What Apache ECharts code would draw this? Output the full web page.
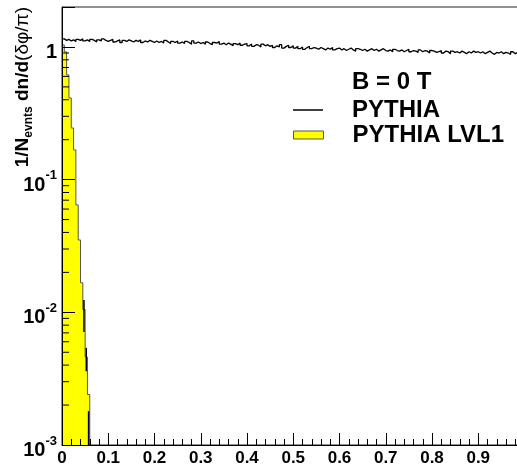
<!DOCTYPE html>
<html>
<head>
<meta charset="utf-8">
<script src="https://cdn.jsdelivr.net/npm/echarts@6/dist/echarts.min.js"></script>
<style>
  html, body { margin: 0; padding: 0; background: #ffffff; }
  #chart { width: 517px; height: 465px; }
</style>
</head>
<body>
<div id="chart"></div>
<script>
// Histogram binning along δφ/π
const binWidth = 0.005;

// PYTHIA, 200 bins from 0 to 1
const pythia = [
  1.15, 1.12, 1.14, 1.11, 1.13, 1.10, 1.14, 1.12, 1.15, 1.11,
  1.13, 1.10, 1.14, 1.12, 1.09, 1.13, 1.11, 1.15, 1.12, 1.10,
  1.12, 1.14, 1.09, 1.11, 1.13, 1.08, 1.12, 1.10, 1.13, 1.11,
  1.09, 1.12, 1.10, 1.13, 1.08, 1.11, 1.09, 1.12, 1.10, 1.08,
  1.11, 1.08, 1.10, 1.07, 1.12, 1.09, 1.06, 1.10, 1.08, 1.11,
  1.07, 1.09, 1.06, 1.10, 1.08, 1.05, 1.11, 1.07, 1.09, 1.06,
  1.08, 1.05, 1.09, 1.06, 1.04, 1.08, 1.07, 1.10, 1.05, 1.07,
  1.04, 1.07, 1.05, 1.02, 1.06, 1.04, 1.07, 1.03, 1.05, 1.06,
  1.02, 1.05, 1.01, 1.04, 1.03, 1.00, 1.05, 1.02, 1.04, 1.01,
  1.03, 0.99, 1.02, 1.00, 1.04, 0.98, 1.01, 1.03, 0.99, 1.02,
  0.98, 1.01, 0.97, 1.00, 0.96, 0.99, 1.01, 0.97, 0.99, 0.98,
  0.96, 0.99, 0.97, 0.95, 0.98, 0.96, 0.99, 0.95, 0.97, 0.98,
  0.95, 0.97, 0.94, 0.96, 0.98, 0.95, 0.93, 0.97, 0.96, 0.94,
  0.96, 0.93, 0.95, 0.97, 0.94, 0.96, 0.93, 0.95, 0.97, 0.94,
  0.93, 0.95, 0.92, 0.96, 0.94, 0.93, 0.95, 0.92, 0.94, 0.96,
  0.92, 0.94, 0.93, 0.91, 0.95, 0.92, 0.94, 0.93, 0.90, 0.94,
  0.93, 0.91, 0.92, 0.94, 0.90, 0.93, 0.92, 0.89, 0.93, 0.91,
  0.92, 0.90, 0.93, 0.91, 0.89, 0.92, 0.90, 0.93, 0.91, 0.92,
  0.90, 0.92, 0.89, 0.91, 0.93, 0.90, 0.88, 0.91, 0.90, 0.92,
  0.89, 0.91, 0.90, 0.88, 0.92, 0.89, 0.91, 0.90, 0.89, 0.91
];

// PYTHIA LVL1, first 12 bins (empty beyond)
const pythiaLvl1 = [1.035, 0.917, 0.615, 0.413, 0.245, 0.1675, 0.0645, 0.0351, 0.0167, 0.0105, 0.0046, 0.0024];

// Error bars on the low-statistics LVL1 bins
const lvl1ErrBins = [9, 10, 11];
const lvl1ErrLow  = [0.0071, 0.0036, 0.0010];
const lvl1ErrHigh = [0.0124, 0.0054, 0.0018];

const yMin = 0.001, yMax = 2;
const font = '"Liberation Sans", Arial, Helvetica, sans-serif';

// step outline: left bin edges plus closing right edge
function histSteps(vals) {
  const d = vals.map((v, i) => [i * binWidth, v]);
  d.push([vals.length * binWidth, vals[vals.length - 1]]);
  return d;
}
const lvl1Steps = histSteps(pythiaLvl1);
lvl1Steps.push([pythiaLvl1.length * binWidth, yMin]);

// log-axis minor tick values (2..9 per decade)
const minorY = [];
for (let e = -3; e <= 0; e++) {
  for (let m = 2; m <= 9; m++) {
    const v = m * Math.pow(10, e);
    if (v < yMax) minorY.push(v);
  }
}

const legendText = { fontFamily: font, fontWeight: 'bold', fontSize: 24, lineHeight: 24, color: '#000', padding: [0, 0, 0, 24] };

const chart = echarts.init(document.getElementById('chart'), null, { renderer: 'canvas' });

chart.setOption({
  animation: false,
  backgroundColor: '#ffffff',
  grid: {
    left: 62, top: 7, width: 462.5, height: 438,
    outerBoundsMode: 'none', containLabel: false,
    show: true, borderColor: '#222', borderWidth: 1, backgroundColor: 'transparent'
  },
  xAxis: {
    type: 'value', min: 0, max: 1, interval: 0.1, z: 10,
    axisLine: { show: true, onZero: false, lineStyle: { color: '#000', width: 1 } },
    axisTick: { show: true, inside: true, length: 12, lineStyle: { color: '#000', width: 1 } },
    minorTick: { show: true, splitNumber: 5, length: 6, lineStyle: { color: '#000', width: 1 } },
    splitLine: { show: false },
    axisLabel: {
      margin: 5, color: '#000', fontFamily: font, fontWeight: 'bold', fontSize: 17,
      formatter: v => (v === 0 ? '0' : v >= 0.999 ? '' : v.toFixed(1))
    }
  },
  yAxis: {
    type: 'log', logBase: 10, min: yMin, max: yMax, z: 10,
    axisLine: { show: true, lineStyle: { color: '#000', width: 1 } },
    axisTick: { show: true, inside: true, length: 13, lineStyle: { color: '#000', width: 1 } },
    splitLine: { show: false },
    axisLabel: {
      margin: 5, color: '#000', padding: [5, 0, 0, 0],
      formatter: v => {
        const l = Math.log10(v), e = Math.round(l);
        if (Math.abs(l - e) > 1e-6) return '';
        if (e === 0) return '{n|1}';
        return '{n|10}{e|-' + Math.abs(e) + '}';
      },
      rich: {
        n: { fontFamily: font, fontWeight: 'bold', fontSize: 20, lineHeight: 26, verticalAlign: 'bottom', color: '#000' },
        e: { fontFamily: font, fontWeight: 'bold', fontSize: 13, lineHeight: 26, verticalAlign: 'top', color: '#000' }
      }
    }
  },
  legend: [
    {
      orient: 'vertical', left: 293, top: 98, padding: 0,
      itemWidth: 30, itemHeight: 1.5, selectedMode: false,
      textStyle: legendText,
      data: [{ name: 'PYTHIA', icon: 'rect', itemStyle: { color: '#000', borderWidth: 0 } }]
    },
    {
      orient: 'vertical', left: 293, top: 123, padding: 0,
      itemWidth: 30, itemHeight: 8, selectedMode: false,
      textStyle: legendText,
      data: [{ name: 'PYTHIA LVL1', icon: 'rect', itemStyle: { color: '#ffff00', borderColor: '#555', borderWidth: 1 } }]
    }
  ],
  graphic: [
    {
      type: 'text', x: 352, y: 82, z: 20,
      style: { text: 'B = 0 T', fill: '#000', font: 'bold 24px ' + font, verticalAlign: 'middle' }
    },
    {
      type: 'text', x: 23, y: 7, rotation: Math.PI / 2, z: 20,
      style: {
        text: '{b|1/N}{s|evnts}{b| dn/d}{g|(δφ/π)}',
        align: 'right', verticalAlign: 'middle', fill: '#000',
        rich: {
          b: { font: 'bold 19px ' + font, lineHeight: 24, verticalAlign: 'middle', fill: '#000' },
          s: { font: 'bold 12px ' + font, lineHeight: 24, verticalAlign: 'bottom', fill: '#000' },
          g: { font: '19px ' + font, lineHeight: 24, verticalAlign: 'middle', fill: '#000' }
        }
      }
    }
  ],
  series: [
    {
      name: 'PYTHIA LVL1', type: 'line', step: 'end', z: 2,
      data: lvl1Steps, showSymbol: false, symbol: 'none',
      itemStyle: { color: '#ffff00' },
      lineStyle: { color: '#555', width: 1 },
      areaStyle: { color: '#ffff00', opacity: 1, origin: 'start' }
    },
    {
      name: 'LVL1 errors', type: 'custom', z: 4,
      data: lvl1ErrBins.map((b, i) => [(b + 0.5) * binWidth, lvl1ErrLow[i], lvl1ErrHigh[i]]),
      renderItem: (params, api) => {
        const lo = api.coord([api.value(0), api.value(1)]);
        const hi = api.coord([api.value(0), api.value(2)]);
        return { type: 'line', shape: { x1: lo[0], y1: lo[1], x2: hi[0], y2: hi[1] },
                 style: { stroke: '#000', lineWidth: 1.5 } };
      }
    },
    {
      name: 'PYTHIA', type: 'line', step: 'end', z: 5,
      data: histSteps(pythia), showSymbol: false, symbol: 'none',
      itemStyle: { color: '#000' },
      lineStyle: { color: '#000', width: 1.3 }
    },
    {
      name: 'y minor ticks', type: 'custom', z: 12, silent: true,
      data: minorY.map(v => [0, v]),
      renderItem: (params, api) => {
        const p = api.coord([0, api.value(1)]);
        return { type: 'line', shape: { x1: p[0], y1: p[1], x2: p[0] + 7, y2: p[1] },
                 style: { stroke: '#000', lineWidth: 1 } };
      }
    }
  ]
});
</script>
</body>
</html>
